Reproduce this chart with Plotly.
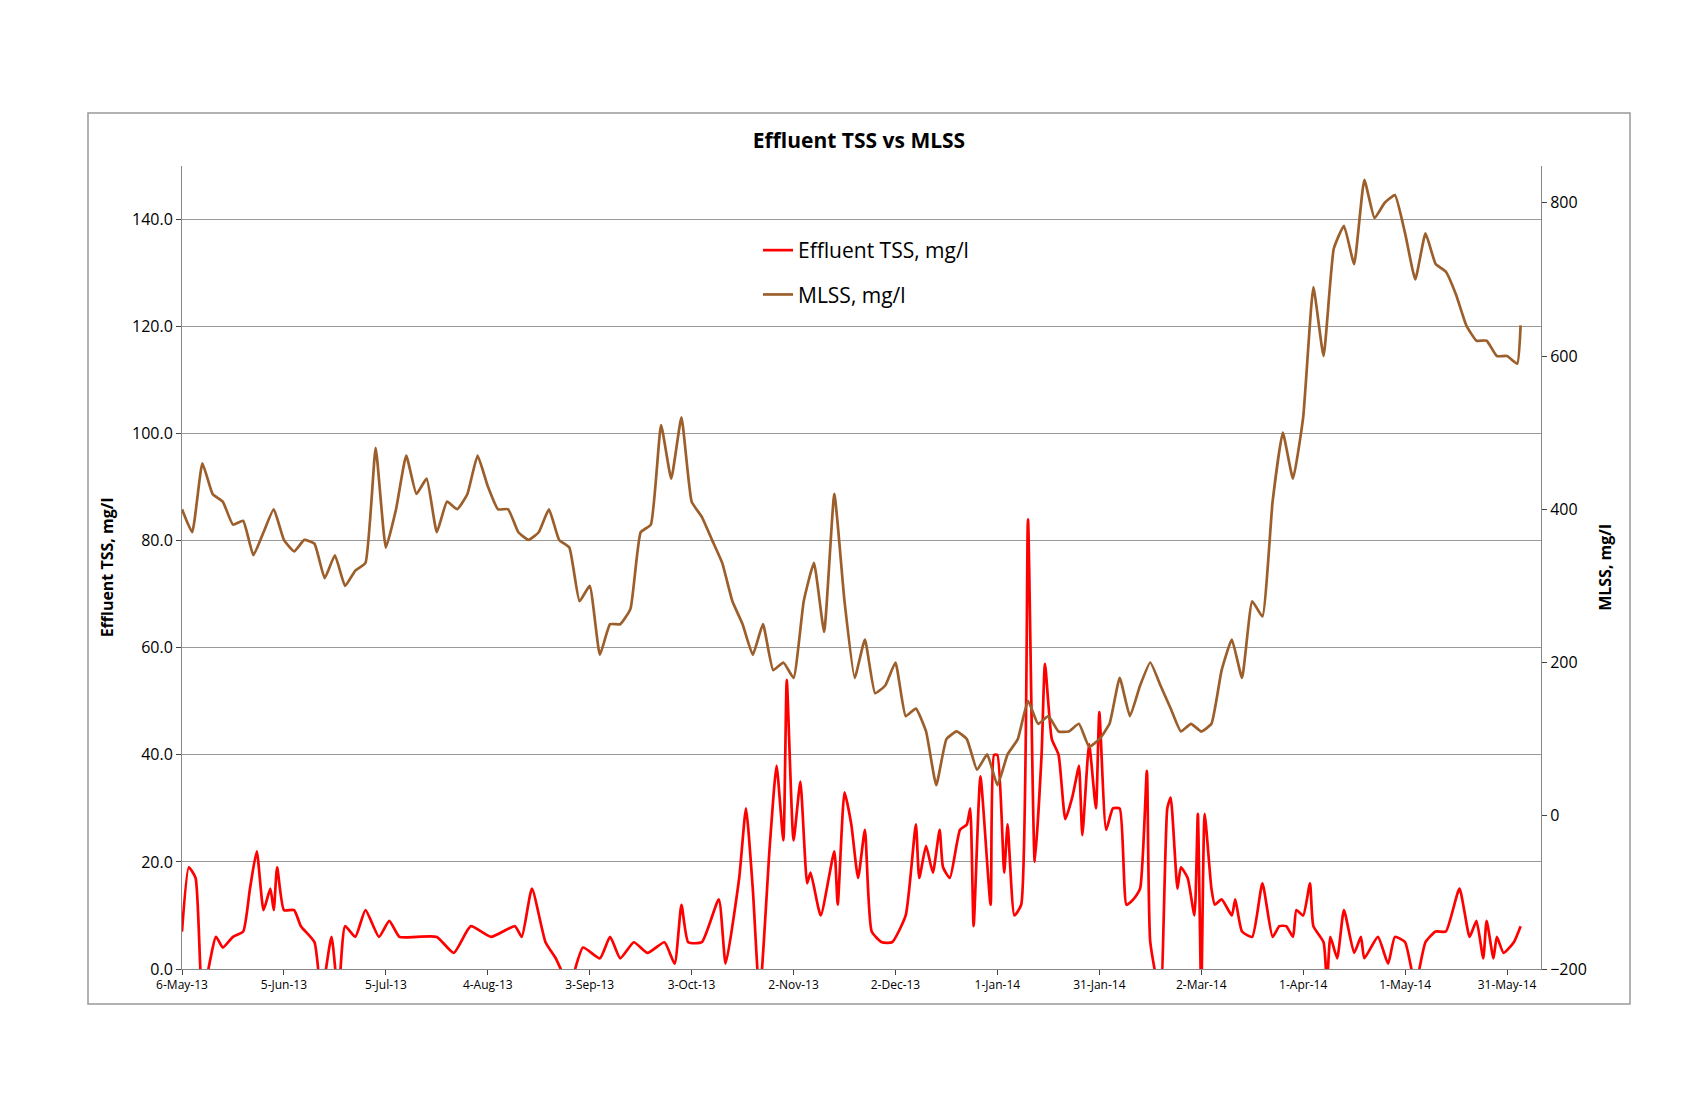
import plotly.graph_objects as go
import pandas as pd

start = "2013-05-06"
tick_days = [0, 30, 60, 90, 120, 150, 180, 210, 240, 270, 300, 330, 360, 390]

mlss_day = list(range(0, 394, 3)) + [394]
mlss = [400, 370, 460, 420, 410, 380, 385, 340, 370, 400, 360, 345, 360, 355, 310, 340,
        300, 320, 330, 480, 350, 400, 470, 420, 440, 370, 410, 400, 420, 470, 430, 400,
        400, 370, 360, 370, 400, 360, 350, 280, 300, 210, 250, 250, 270, 370, 380, 510,
        440, 520, 410, 390, 360, 330, 280, 250, 210, 250, 190, 200, 180, 280, 330, 240,
        420, 280, 180, 230, 160, 170, 200, 130, 140, 110, 40, 100, 110, 100, 60, 80,
        40, 80, 100, 150, 120, 130, 110, 110, 120, 90, 100, 120, 180, 130, 170, 200,
        170, 140, 110, 120, 110, 120, 190, 230, 180, 280, 260, 410, 500, 440, 520, 690,
        600, 740, 770, 720, 830, 780, 800, 810, 760, 700, 760, 720, 710, 680, 640, 620,
        620, 600, 600, 590, 640]

tss_day = [0, 2, 4, 6, 10, 12, 15, 18, 20, 22, 24, 26, 27, 28, 30, 33, 35, 39, 41, 44,
           46, 48, 51, 54, 58, 61, 64, 69, 75, 80, 85, 91, 98, 100, 103, 107, 110, 114, 118, 123,
           126, 129, 133, 137, 142, 145, 147, 149, 153, 158, 160, 164, 166, 168, 170, 173, 175, 177, 178, 180,
           182, 184, 185, 188, 192, 193, 195, 197, 199, 201, 203, 206, 209, 213, 216, 217, 219, 221, 223, 224,
           226, 229, 231, 232, 233, 235, 238, 239, 240, 242, 243, 245, 247, 249, 251, 253, 254, 256, 258, 260,
           262, 263, 264, 265, 267, 269, 270, 272, 274, 276, 278, 280, 282, 284, 285, 288, 290, 291, 293, 294,
           296, 298, 299, 300, 301, 303, 304, 306, 309, 310, 312, 315, 318, 321, 323, 325, 327, 328, 330, 332,
           333, 336, 337, 338, 340, 342, 345, 347, 348, 352, 355, 357, 360, 363, 366, 369, 372, 376, 379, 381,
           383, 384, 386, 387, 389, 392, 394]
tss = [7, 19, 17, -5, 6, 4, 6, 7, 15, 22, 11, 15, 11, 19, 11, 11, 8, 5, -5, 6,
       -5, 8, 6, 11, 6, 9, 6, 6, 6, 3, 8, 6, 8, 6, 15, 5, 2, -3, 4, 2,
       6, 2, 5, 3, 5, 1, 12, 5, 5, 13, 1, 17, 30, 15, -5, 23, 38, 24, 54, 24,
       35, 16, 18, 10, 22, 12, 33, 27, 17, 26, 7, 5, 5, 10, 27, 17, 23, 18, 26, 19,
       17, 26, 27, 30, 8, 36, 12, 40, 40, 18, 27, 10, 12, 84, 20, 40, 57, 43, 40, 28,
       32, 35, 38, 25, 42, 30, 48, 26, 30, 30, 12, 13, 15, 37, 5, -5, 30, 32, 15, 19,
       17, 10, 29, -5, 29, 15, 12, 13, 10, 13, 7, 6, 16, 6, 8, 8, 6, 11, 10, 16,
       8, 5, -3, 6, 2, 11, 3, 6, 2, 6, 1, 6, 5, -3, 5, 7, 7, 15, 6, 9,
       2, 9, 2, 6, 3, 5, 8]

s = pd.Timestamp(start)
to_dates = lambda ds: [s + pd.Timedelta(days=d) for d in ds]

fig = go.Figure()
fig.add_trace(go.Scatter(x=to_dates(tss_day), y=tss, name="Effluent TSS, mg/l", mode="lines",
                         legendgroup="a",
                         line=dict(color="#ff0000", width=2.7, shape="spline", smoothing=0.5)))
fig.add_trace(go.Scatter(x=to_dates(mlss_day), y=mlss, name="MLSS, mg/l", mode="lines", yaxis="y2",
                         legendgroup="b",
                         line=dict(color="#9c5f2c", width=2.7, shape="spline", smoothing=0.4)))

L, R, T, B = 174, 1533, 158, 961
W, H = R - L, B - T
font = "Open Sans, Liberation Sans, sans-serif"
fig.update_layout(
    width=1700, height=1100, paper_bgcolor="white", plot_bgcolor="white",
    margin=dict(l=L, r=1700 - R, t=T, b=1100 - B),
    font=dict(family=font, color="black"),
    title=dict(text="<b>Effluent TSS vs MLSS</b>", x=(851) / 1700, xanchor="center",
               y=1 - 133 / 1100, yanchor="middle", font=dict(size=21)),
    showlegend=True,
    legend=dict(x=(750 - L) / W, y=(B - 222) / H, xanchor="left", yanchor="top",
                font=dict(size=21), bgcolor="rgba(0,0,0,0)", tracegroupgap=14),
    xaxis=dict(type="date", range=[s, s + pd.Timedelta(days=400)],
               tickvals=to_dates(tick_days), tickformat="%-d-%b-%y", tickfont=dict(size=12),
               ticks="outside", ticklen=5, showgrid=False, showline=True, linecolor="#888", linewidth=1),
    yaxis=dict(range=[0, 150], dtick=20, tickformat=".1f", showgrid=True, gridcolor="#999",
               gridwidth=1, showline=True, linecolor="#888", ticks="outside", ticklen=5,
               tickfont=dict(size=16), zeroline=False,
               title=dict(text="<b>Effluent TSS, mg/l</b>", font=dict(size=16), standoff=14)),
    yaxis2=dict(range=[-200, 848], overlaying="y", side="right", tickvals=[-200, 0, 200, 400, 600, 800],
                showgrid=False, showline=True, linecolor="#888", ticks="outside", ticklen=5,
                tickfont=dict(size=16), zeroline=False,
                title=dict(text="<b>MLSS, mg/l</b>", font=dict(size=16), standoff=14)),
)
fig.add_shape(type="rect", xref="paper", yref="paper",
              x0=(80 - L) / W, x1=(1622 - L) / W, y0=(B - 996) / H, y1=(B - 105) / H,
              line=dict(color="#999", width=1.5))
fig.write_html("out.html")
